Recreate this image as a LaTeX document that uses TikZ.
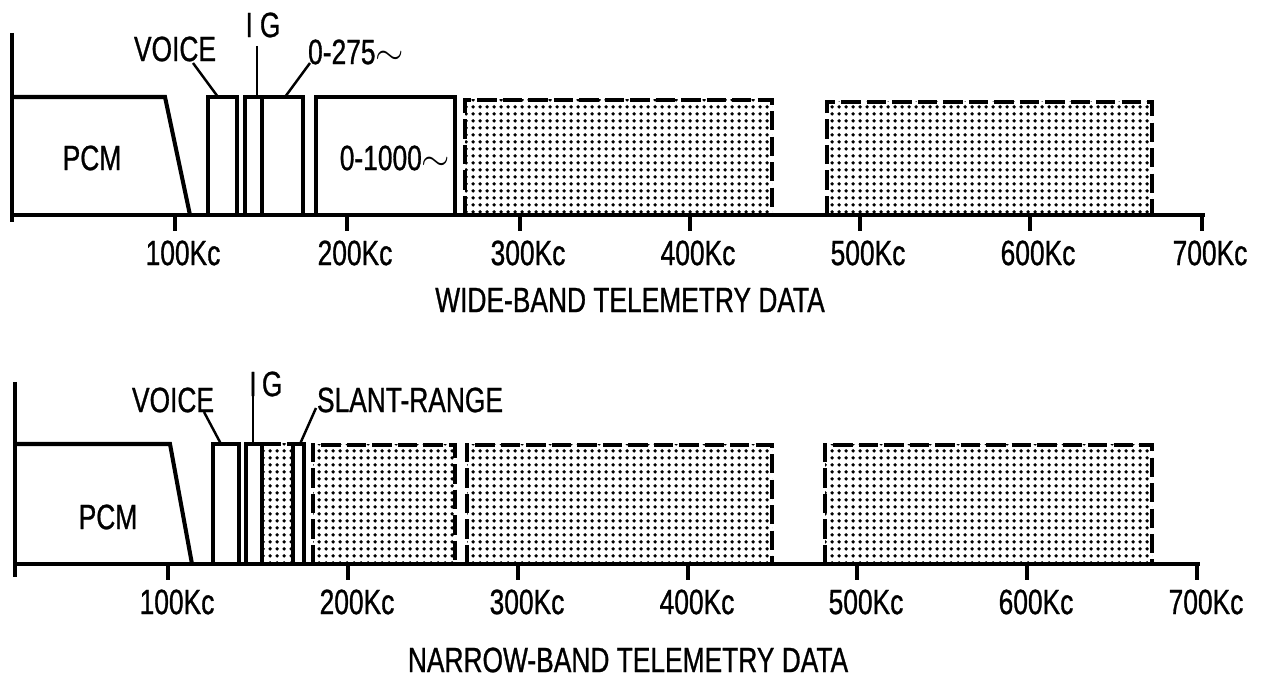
\documentclass[tikz,border=0pt]{standalone}
\usepackage{fontspec}
\setmainfont{Liberation Sans}[FakeStretch=0.75,FakeBold=0.8]
\usetikzlibrary{patterns}
\pgfdeclarepatternformonly{halftone}{\pgfpoint{0pt}{0pt}}{\pgfpoint{4pt}{4pt}}{\pgfpoint{4pt}{4pt}}{\pgfpathcircle{\pgfpoint{2pt}{2pt}}{1.2pt}\pgfusepath{fill}}
\begin{document}
\begin{tikzpicture}[x=0.02cm,y=-0.02cm,
  lbl/.style={font=\fontsize{20}{22}\selectfont, inner sep=0pt},
  band/.style={draw, line width=2.3pt, line join=miter},
  dotfill/.style={pattern=halftone},
  dashline/.style={draw, line width=2.3pt, dash pattern=on 11pt off 3.5pt},
  leader/.style={line width=1.4pt},
  axis/.style={line width=2.2pt},
  tickmark/.style={line width=2.3pt}]
\useasboundingbox (0,0) rectangle (1267,678);

% ---------------- WIDE-BAND ----------------
\coordinate (wO) at (12,215);
\coordinate (wE) at (1205,215);
\draw[axis] (12,33) -- (12,222);
\draw[axis] (wO) -- (wE);
\foreach \x/\l in {175/100,347/200,520/300,690/400,860/500,1030/600,1202/700}{
  \draw[tickmark] (\x,215) -- (\x,231);
  \node[lbl] (wt\l) at (\x+8,253) {\l Kc};
}
% bands
\draw[band] (12,97) -- (165,97) -- (190,215);
\draw[band] (208,215) -- (208,97) -- (237,97) -- (237,215);
\draw[band] (245,215) -- (245,97) -- (303,97) -- (303,215);
\draw[band] (262,97) -- (262,215);
\draw[band] (316,215) -- (316,97) -- (455,97) -- (455,215);
\fill[dotfill] (465,100) rectangle (772,215);
\draw[dashline] (465,215) -- (465,100) -- (772,100) -- (772,215);
\fill[dotfill] (827,102) rectangle (1152,215);
\draw[dashline] (827,215) -- (827,102) -- (1152,102) -- (1152,215);
% labels
\node[lbl] (wpcm) at (92,158) {PCM};
\node[lbl] (w1000) at (395,158) {0-1000$\sim$};
\node[lbl] (wvoice) at (175,49) {VOICE};
\node[lbl] (wig) at (263,25) {I\kern4pt G};
\node[lbl] (w275) at (356,52) {0-275$\sim$};
\coordinate (wvoiceA) at (193,63);
\coordinate (wvoiceB) at (218,97);
\coordinate (wigA) at (257,46);
\coordinate (wigB) at (257,97);
\coordinate (w275A) at (310,63);
\coordinate (w275B) at (285,97);
\draw[leader] (wvoiceA) -- (wvoiceB);
\draw[leader] (wigA) -- (wigB);
\draw[leader] (w275A) -- (w275B);
\node[lbl] (wtitle) at (630,300) {WIDE-BAND TELEMETRY DATA};

% ---------------- NARROW-BAND ----------------
\coordinate (nO) at (15,564);
\coordinate (nE) at (1200,564);
\draw[axis] (15,382) -- (15,577);
\draw[axis] (nO) -- (nE);
\foreach \x/\l in {168/100,348/200,518/300,688/400,857/500,1027/600,1197/700}{
  \draw[tickmark] (\x,564) -- (\x,580);
  \node[lbl] (nt\l) at (\x+9,602) {\l Kc};
}
\draw[band] (15,444) -- (170,444) -- (192,564);
\draw[band] (213,564) -- (213,444) -- (239,444) -- (239,564);
\draw[band] (246,564) -- (246,444) -- (262,444) -- (262,564);
\fill[dotfill] (262,444) rectangle (293,564);
\draw[dashline] (262,444) -- (293,444);
\draw[band] (293,564) -- (293,444) -- (304,444) -- (304,564);
\fill[dotfill] (313,445) rectangle (455,564);
\draw[dashline] (313,564) -- (313,445) -- (455,445) -- (455,564);
\fill[dotfill] (467,445) rectangle (772,564);
\draw[dashline] (467,564) -- (467,445) -- (772,445) -- (772,564);
\fill[dotfill] (825,445) rectangle (1152,564);
\draw[dashline] (825,564) -- (825,445) -- (1152,445) -- (1152,564);
\node[lbl] (npcm) at (108,517) {PCM};
\node[lbl] (nvoice) at (173,400) {VOICE};
\node[lbl, anchor=west] (nig) at (249,384) {I\kern3pt G};
\node[lbl] (nslant) at (410,400) {SLANT-RANGE};
\coordinate (nvoiceA) at (204,412);
\coordinate (nvoiceB) at (221,444);
\coordinate (nigA) at (253,392);
\coordinate (nigB) at (253,444);
\coordinate (nslantA) at (316,408);
\coordinate (nslantB) at (300,444);
\draw[leader] (nvoiceA) -- (nvoiceB);
\draw[leader] (nigA) -- (nigB);
\draw[leader] (nslantA) -- (nslantB);
\node[lbl] (ntitle) at (628,660) {NARROW-BAND TELEMETRY DATA};
\end{tikzpicture}
\end{document}
